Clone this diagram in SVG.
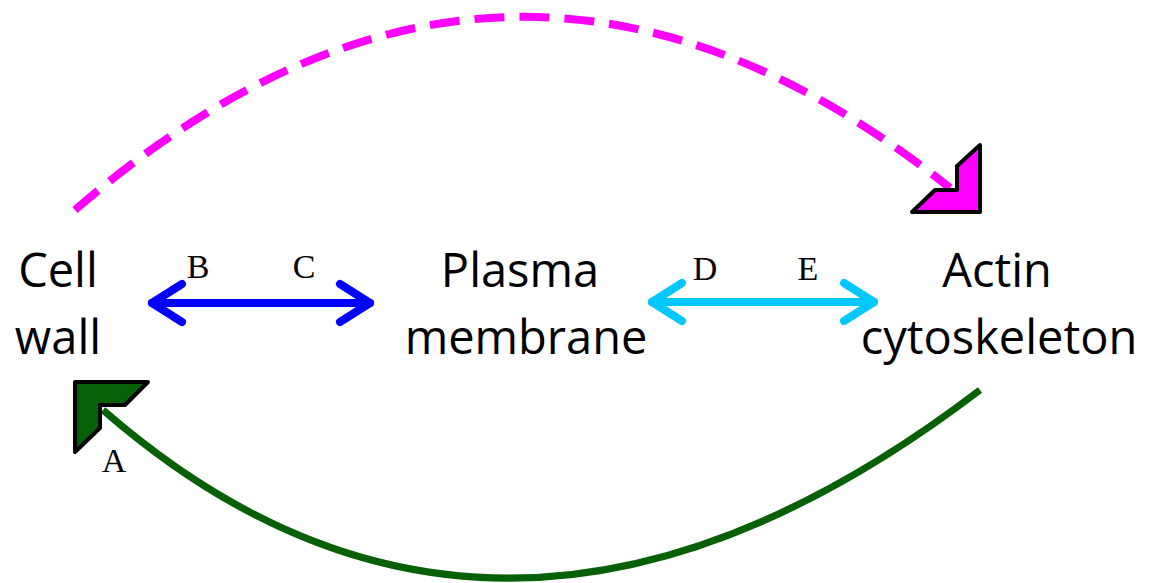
<svg xmlns="http://www.w3.org/2000/svg" width="1150" height="583" viewBox="0 0 1150 583">
<style>
.node{font-family:"Open Sans","Liberation Sans",sans-serif;font-size:47px;fill:#000;text-anchor:middle}
.lbl{font-family:"Liberation Serif",serif;font-size:34px;fill:#000;text-anchor:middle}
.dbl{fill:none;stroke-width:8;stroke-linecap:round;stroke-linejoin:round}
</style>
<rect width="1150" height="583" fill="#fff"/>
<g id="connectors">
<path d="M75,210 Q508,-165 950,188" fill="none" stroke="#ff00ff" stroke-width="8" stroke-dasharray="30,15"/>
<polygon points="980,145 980,212 912,212 935,190 957,190 957,166" fill="#ff00ff" stroke="#000" stroke-width="4" stroke-linejoin="round"/>
<path d="M980,390 Q500,756 103,410" fill="none" stroke="#066006" stroke-width="7"/>
<polygon points="75,382 148,382 125,405 100,405 100,428 75,452" fill="#066006" stroke="#000" stroke-width="4" stroke-linejoin="round"/>
<g class="dbl" stroke="#0000ff">
<line x1="152" y1="303" x2="370" y2="303"/>
<polyline points="182,284 152,303 182,322"/>
<polyline points="340,284 370,303 340,322"/>
</g>
<g class="dbl" stroke="#00c8ff">
<line x1="652" y1="302" x2="874" y2="302"/>
<polyline points="682,283 652,302 682,321"/>
<polyline points="844,283 874,302 844,321"/>
</g>
<text class="lbl" x="198" y="278">B</text>
<text class="lbl" x="304" y="278">C</text>
<text class="lbl" x="705" y="280">D</text>
<text class="lbl" x="808" y="280">E</text>
<text class="lbl" x="114" y="472">A</text>
</g>
<g id="cell-wall"><text class="node" x="58" y="287">Cell</text><text class="node" x="58" y="354">wall</text></g>
<g id="plasma-membrane"><text class="node" x="520" y="287">Plasma</text><text class="node" x="526" y="354">membrane</text></g>
<g id="actin-cytoskeleton"><text class="node" x="997" y="287">Actin</text><text class="node" x="999" y="354">cytoskeleton</text></g>
</svg>
